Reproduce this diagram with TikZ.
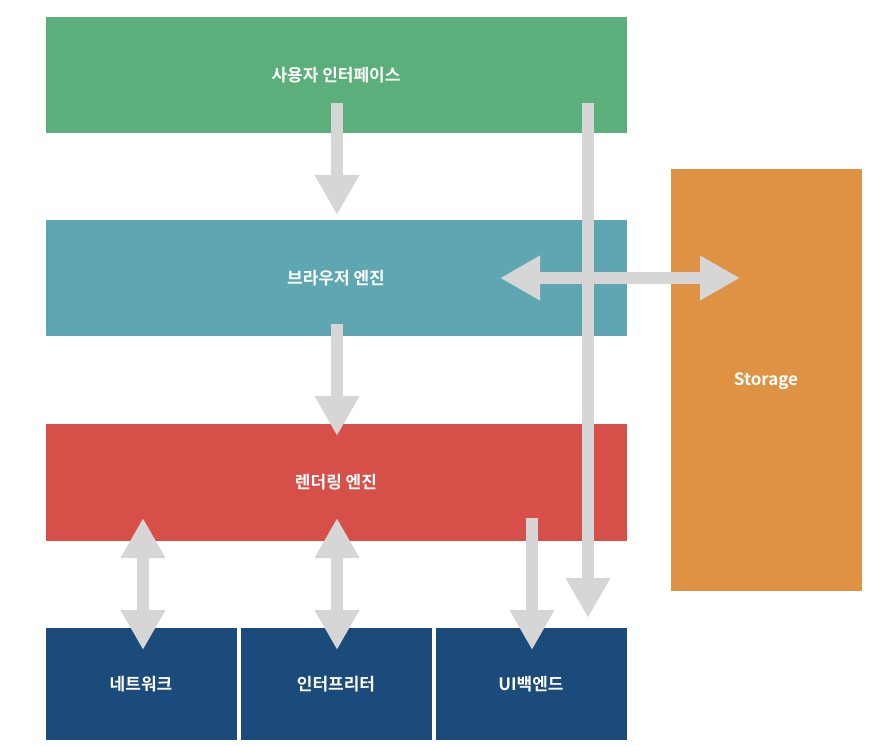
\documentclass[tikz,border=0pt]{standalone}
\usepackage{fontspec}
\setmainfont{Noto Sans CJK KR}[BoldFont={* Bold}]
\usetikzlibrary{arrows.meta}
\definecolor{cg}{HTML}{5BAF7B}
\definecolor{ct}{HTML}{5EA7B2}
\definecolor{cr}{HTML}{D64F48}
\definecolor{cn}{HTML}{1B4B7A}
\definecolor{co}{HTML}{E09244}
\definecolor{ca}{HTML}{D6D6D6}
\begin{document}
\begin{tikzpicture}[x=1pt,y=-1pt,
  box/.style={draw=none,inner sep=0,text=white,font=\bfseries\fontsize{17}{20}\selectfont},
  ar/.style={draw=ca,line width=12pt,-{Triangle[length=40pt 0 0,width=42pt 0]}},
  dar/.style={draw=ca,line width=12pt,{Triangle[length=40pt 0 0,width=42pt 0]}-{Triangle[length=40pt 0 0,width=42pt 0]}}]
\useasboundingbox (0,0) rectangle (883,746);
\fill[cg] (46,17) rectangle (627,133); \node[box] (ui) at (336,75) {사용자 인터페이스};
\fill[ct] (46,220) rectangle (627,336); \node[box] (be) at (336,278) {브라우저 엔진};
\fill[cr] (46,424) rectangle (627,541); \node[box] (re) at (336,482) {렌더링 엔진};
\fill[cn] (46,628) rectangle (237,740); \node[box] (net) at (141,684) {네트워크};
\fill[cn] (241,628) rectangle (432,740); \node[box] (js) at (336,684) {인터프리터};
\fill[cn] (436,628) rectangle (627,740); \node[box] (uib) at (531,684) {UI백엔드};
\fill[co] (671,169) rectangle (862,591); \node[box] (st) at (766,381) {Storage};
\coordinate (a1) at (337,103); \coordinate (a2) at (337,215);
\coordinate (b1) at (588,103); \coordinate (b2) at (588,618);
\coordinate (c1) at (337,324); \coordinate (c2) at (337,436);
\coordinate (d1) at (500,278); \coordinate (d2) at (740,278);
\coordinate (e1) at (143,518); \coordinate (e2) at (143,650);
\coordinate (f1) at (337,518); \coordinate (f2) at (337,650);
\coordinate (g1) at (532,518); \coordinate (g2) at (532,650);
\draw[ar] (a1) -- (a2);
\draw[ar] (c1) -- (c2);
\draw[dar] (d1) -- (d2);
\draw[ar] (b1) -- (b2);
\draw[dar] (e1) -- (e2);
\draw[dar] (f1) -- (f2);
\draw[ar] (g1) -- (g2);
\end{tikzpicture}
\end{document}
